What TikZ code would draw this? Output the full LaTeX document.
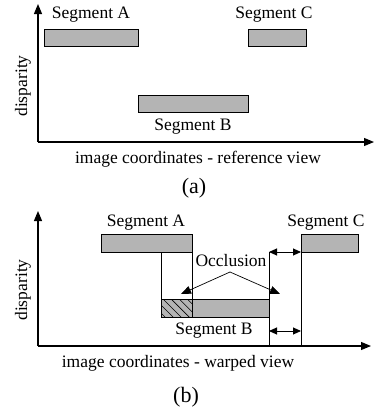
\documentclass[tikz,border=0pt]{standalone}
\usepackage{fontspec}
\setmainfont{Liberation Serif}
\usetikzlibrary{arrows.meta,patterns.meta}
\definecolor{seggray}{RGB}{180,180,180}
\tikzset{
  axis/.style={line width=1.1pt,-{Triangle[width=8pt,length=10pt]}},
  seg/.style={draw=black,line width=0.9pt,fill=seggray,inner sep=0pt,anchor=north west},
  lbl/.style={font=\fontsize{17.5}{20}\selectfont,inner sep=0pt},
  captxt/.style={font=\fontsize{22}{25}\selectfont,inner sep=0pt},
  vline/.style={line width=0.8pt},
  dbl/.style={line width=0.9pt,{Triangle[width=7pt,length=8pt]}-{Triangle[width=7pt,length=8pt]}},
  occ/.style={line width=0.7pt,-{Triangle[width=8pt,length=10pt]}}
}
\begin{document}
\begin{tikzpicture}[x=1pt,y=-1pt]
\useasboundingbox (0,0) rectangle (375,410);
% ---------- (a) ----------
\coordinate (oa) at (38,142);
\coordinate (ya) at (38,4);
\coordinate (xa) at (374,142);
\draw[axis] (oa) -- (ya);
\draw[axis] (oa) -- (xa);
\node[seg,minimum width=94pt,minimum height=17pt] (A1) at (44,29) {};
\node[seg,minimum width=58pt,minimum height=17pt] (C1) at (248,29) {};
\node[seg,minimum width=110pt,minimum height=17pt] (B1) at (138,95) {};
\node[lbl] (lA1) at (91,15) {Segment A};
\node[lbl] (lC1) at (274,15) {Segment C};
\node[lbl] (lB1) at (193,127) {Segment B};
\node[lbl,rotate=90] (dA) at (23,86) {disparity};
\node[lbl] (xA) at (198,159) {image coordinates - reference view};
\node[captxt] (capA) at (194,188) {(a)};
% ---------- (b) ----------
\coordinate (ob) at (38,346);
\coordinate (yb) at (38,211);
\coordinate (xb) at (371,346);
\draw[axis] (ob) -- (yb);
\draw[axis] (ob) -- (xb);
\coordinate (q1) at (161,252);
\coordinate (q2) at (161,299);
\coordinate (r1) at (192,252);
\coordinate (r2) at (192,317);
\coordinate (p1) at (269,252);
\coordinate (p2) at (269,346);
\coordinate (s1) at (301,252);
\coordinate (s2) at (301,346);
\draw[vline] (q1) -- (q2);
\draw[vline] (r1) -- (r2);
\draw[vline] (p1) -- (p2);
\draw[vline] (s1) -- (s2);
\node[seg,minimum width=91pt,minimum height=18pt] (A2) at (101,234) {};
\node[seg,minimum width=57pt,minimum height=18pt] (C2) at (301,234) {};
\node[seg,minimum width=108pt,minimum height=18pt] (B2) at (161,299) {};
\node[seg,minimum width=31pt,minimum height=18pt] (H) at (161,299) {};
\fill[pattern={Lines[angle=-45,distance=5.7pt,line width=0.6pt]}] (H.north west) rectangle (H.south east);
\draw[line width=0.9pt] (H.north west) rectangle (H.south east);
\coordinate (d1) at (269,252);
\coordinate (d2) at (301,252);
\coordinate (d3) at (269,331);
\coordinate (d4) at (301,331);
\draw[dbl] (d1) -- (d2);
\draw[dbl] (d3) -- (d4);
\node[lbl] (occ) at (231,261) {Occlusion};
\coordinate (oc) at (230,272);
\coordinate (ol) at (181,294);
\coordinate (or) at (280,294);
\draw[occ] (oc) -- (ol);
\draw[occ] (oc) -- (or);
\node[lbl] (lA2) at (146,223) {Segment A};
\node[lbl] (lC2) at (326,223) {Segment C};
\node[lbl] (lB2) at (214,331) {Segment B};
\node[lbl,rotate=90] (dB) at (23,290) {disparity};
\node[lbl] (xB) at (178,363) {image coordinates - warped view};
\node[captxt] (capB) at (186,397) {(b)};
\end{tikzpicture}
\end{document}
